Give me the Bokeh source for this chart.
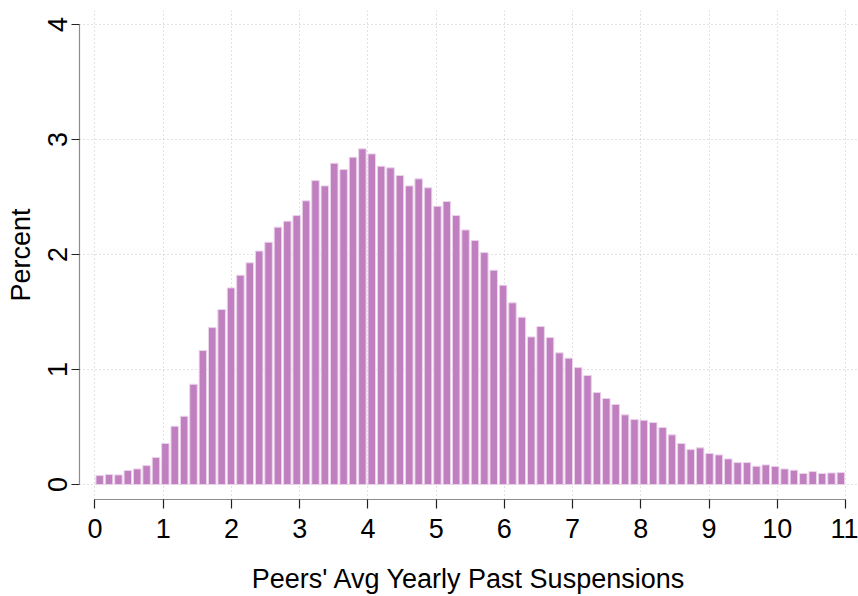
from bokeh.plotting import figure
from bokeh.models import FixedTicker, Range1d, ColumnDataSource
from bokeh.embed import file_html
from bokeh.resources import INLINE

# Histogram: 80 equal-width bins over [0, 11]
bin_start = 0.0
bin_end = 11.0
n_bins = 80
percent = [
    0.078, 0.087, 0.084, 0.122, 0.136, 0.165, 0.235, 0.357, 0.507, 0.594,
    0.872, 1.165, 1.365, 1.522, 1.710, 1.820, 1.928, 2.030, 2.107, 2.238,
    2.290, 2.339, 2.467, 2.643, 2.597, 2.794, 2.739, 2.846, 2.919, 2.875,
    2.768, 2.754, 2.687, 2.597, 2.658, 2.580, 2.420, 2.461, 2.339, 2.214,
    2.122, 2.017, 1.864, 1.733, 1.580, 1.455, 1.284, 1.374, 1.278, 1.145,
    1.099, 1.017, 0.948, 0.800, 0.748, 0.696, 0.606, 0.565, 0.559, 0.539,
    0.496, 0.432, 0.357, 0.304, 0.319, 0.270, 0.258, 0.223, 0.191, 0.191,
    0.159, 0.171, 0.157, 0.136, 0.125, 0.096, 0.113, 0.096, 0.101, 0.104,
]
x_ticks = list(range(0, 12))
y_ticks = [0, 1, 2, 3, 4]
x_title = "Peers' Avg Yearly Past Suspensions"
y_title = "Percent"

bw = (bin_end - bin_start) / n_bins
centers = [bin_start + (i + 0.5) * bw for i in range(n_bins)]
src = ColumnDataSource(dict(x=centers, top=percent))

FONT = "Liberation Sans"
FS = "27px"

p = figure(width=858, height=596, output_backend="svg", toolbar_location=None,
           x_range=Range1d(-0.227, 11.19), y_range=Range1d(-0.130, 4.122),
           min_border_left=79, min_border_right=0, min_border_top=10,
           min_border_bottom=97)
p.outline_line_color = None
p.background_fill_color = "white"
p.border_fill_color = "white"

p.vbar(x="x", top="top", bottom=0, width=bw * 0.8, source=src,
       fill_color="#C080C0", line_color="#EBD3EB", line_width=1)

for ax in (p.xaxis[0], p.yaxis[0]):
    ax.axis_line_color = "#8c8c8c"
    ax.axis_line_width = 1.2
    ax.major_tick_line_color = "#222222"
    ax.major_tick_line_width = 1.2
    ax.major_tick_in = 0
    ax.minor_tick_line_color = None
    ax.major_label_text_font = FONT
    ax.major_label_text_font_size = FS
    ax.major_label_text_color = "black"
    ax.axis_label_text_font = FONT
    ax.axis_label_text_font_size = FS
    ax.axis_label_text_font_style = "normal"
    ax.axis_label_text_color = "black"

p.xaxis.ticker = FixedTicker(ticks=x_ticks)
p.yaxis.ticker = FixedTicker(ticks=y_ticks)
p.xaxis.bounds = (x_ticks[0], x_ticks[-1])
p.yaxis.bounds = (y_ticks[0], y_ticks[-1])
p.xaxis.major_tick_out = 9
p.yaxis.major_tick_out = 8
p.xaxis.major_label_standoff = 10
p.yaxis.major_label_standoff = 4
p.yaxis.major_label_orientation = "vertical"
p.xaxis.axis_label = x_title
p.yaxis.axis_label = y_title
p.xaxis.axis_label_standoff = 23
p.yaxis.axis_label_standoff = 10

for g in (p.xgrid[0], p.ygrid[0]):
    g.grid_line_color = "#c4c4c4"
    g.grid_line_dash = "1 3"
    g.grid_line_width = 1
p.xgrid.ticker = FixedTicker(ticks=x_ticks)
p.ygrid.ticker = FixedTicker(ticks=y_ticks)

open("out.html", "w").write(file_html(p, INLINE))
